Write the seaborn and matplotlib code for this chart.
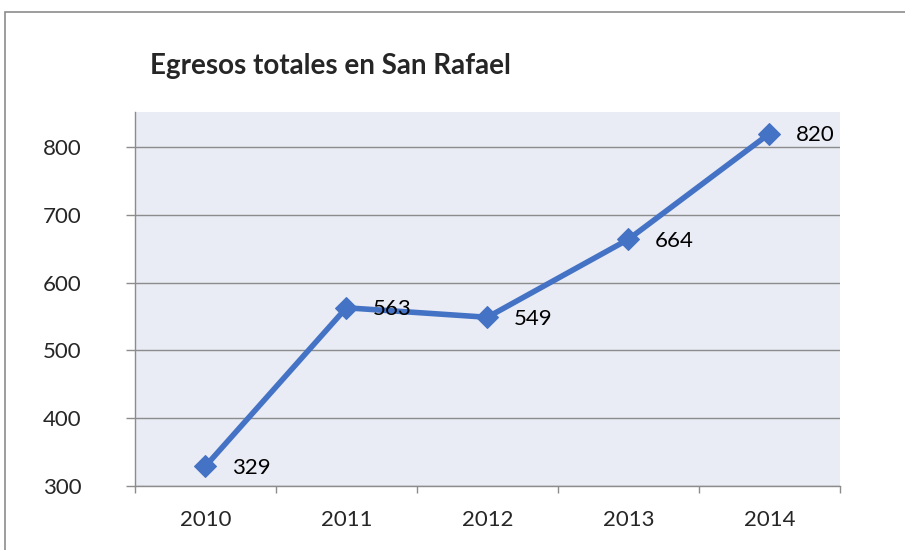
import matplotlib
matplotlib.use("Agg")
import matplotlib.pyplot as plt
import seaborn as sns
import pandas as pd
from matplotlib.patches import Rectangle

# Data
years = ["2010", "2011", "2012", "2013", "2014"]
egresos = [329, 563, 549, 664, 820]

df = pd.DataFrame({"year": years, "egresos": egresos})
df["pos"] = range(len(years))

sns.set_theme(style="white")
plt.rcParams["font.family"] = ["Lato", "DejaVu Sans"]

fig = plt.figure(figsize=(9.05, 5.5), dpi=100)
ax = fig.add_axes([0.149, 0.1164, 0.779, 0.68])

# outer frame of the chart area
fig.patches.append(Rectangle((5 / 905, -0.01), 1.0, (550 - 12) / 550 + 0.01,
                             transform=fig.transFigure, fill=False,
                             edgecolor="#8c8c8c", linewidth=1.2))

ax.set_facecolor("#E9EBF5")
sns.lineplot(data=df, x="pos", y="egresos", ax=ax, color="#4472C4",
             linewidth=4, marker="D", markersize=11, markeredgecolor="#4472C4")

for x, v in zip(df["pos"], df["egresos"]):
    ax.annotate(str(v), (x, v), xytext=(19, -1), textcoords="offset points",
                fontsize=16, color="black", va="center", ha="left")

ax.set_xlim(-0.5, 4.5)
ax.set_ylim(300, 852)
ax.set_yticks([300, 400, 500, 600, 700, 800])
ax.yaxis.grid(True, color="#8c8c8c", linewidth=1)
ax.set_axisbelow(True)

ax.set_xticks(range(len(years)))
ax.set_xticklabels(years)
ax.set_xticks([-0.5, 0.5, 1.5, 2.5, 3.5, 4.5], minor=True)
ax.tick_params(axis="x", which="major", length=0, pad=17, labelsize=16)
ax.tick_params(axis="x", which="minor", length=5, color="#8c8c8c", width=1)
ax.tick_params(axis="y", which="major", length=6.5, color="#8c8c8c", width=1,
               labelsize=16, pad=32)
ax.tick_params(axis="x", bottom=True, which="minor")
ax.tick_params(axis="y", left=True)

for s in ["top", "right"]:
    ax.spines[s].set_visible(False)
for s in ["left", "bottom"]:
    ax.spines[s].set_color("#8c8c8c")
    ax.spines[s].set_linewidth(1)

ax.set_xlabel("")
ax.set_ylabel("")

fig.text(150 / 905, 1 - 66 / 550, "Egresos totales en San Rafael",
         fontsize=20, fontweight="bold", va="center", ha="left")

fig.savefig("out.png", dpi=100)
